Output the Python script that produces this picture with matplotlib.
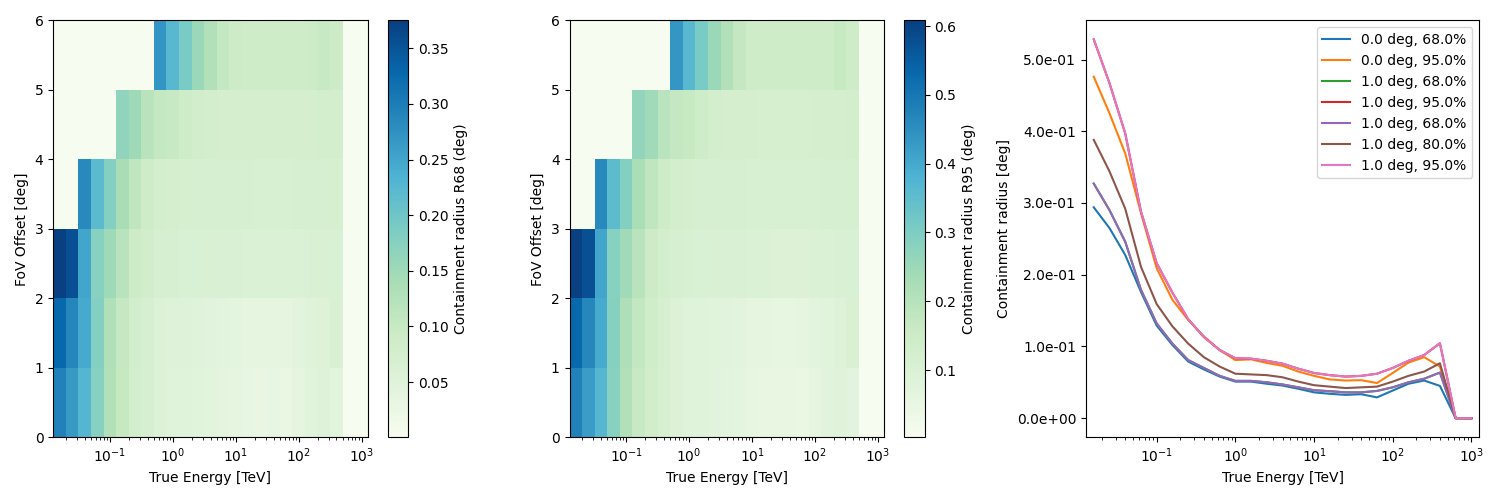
import numpy as np
import matplotlib
matplotlib.use("Agg")
import matplotlib.pyplot as plt
from matplotlib.ticker import FormatStrFormatter

# energy bin edges (log10 TeV) and FoV offset edges (deg)
log_energy_edges = [-1.9, -1.7, -1.5, -1.3, -1.1, -0.9, -0.7, -0.5, -0.3, -0.1, 0.1, 0.3, 0.5,
                    0.7, 0.9, 1.1, 1.3, 1.5, 1.7, 1.9, 2.1, 2.3, 2.5, 2.7, 2.9, 3.1]
log_energy_center = [-1.8, -1.6, -1.4, -1.2, -1.0, -0.8, -0.6, -0.4, -0.2, 0.0, 0.2, 0.4, 0.6,
                     0.8, 1.0, 1.2, 1.4, 1.6, 1.8, 2.0, 2.2, 2.4, 2.6, 2.8, 3.0]
offset_edges = [0, 1, 2, 3, 4, 5, 6]

# containment radius vs energy (deg)
r68_off0 = [0.294, 0.265, 0.2275, 0.176, 0.129, 0.102, 0.079, 0.068, 0.058, 0.051, 0.051, 0.048, 0.0455,
            0.041, 0.036, 0.034, 0.0325, 0.0334, 0.029, 0.0385, 0.048, 0.0525, 0.045, 0.0, 0.0]
r95_off0 = [0.476, 0.425, 0.369, 0.286, 0.209, 0.165, 0.137, 0.114, 0.095, 0.081, 0.082, 0.077, 0.073,
            0.065, 0.059, 0.054, 0.0525, 0.053, 0.049, 0.063, 0.0775, 0.085, 0.072, 0.0, 0.0]
r68_off1 = [0.327, 0.290, 0.246, 0.179, 0.132, 0.104, 0.081, 0.070, 0.059, 0.052, 0.052, 0.050, 0.047,
            0.043, 0.039, 0.0376, 0.036, 0.036, 0.038, 0.043, 0.050, 0.055, 0.0636, 0.0, 0.0]
r80_off1 = [0.388, 0.344, 0.292, 0.211, 0.159, 0.128, 0.104, 0.085, 0.072, 0.062, 0.061, 0.060, 0.057,
            0.051, 0.046, 0.044, 0.042, 0.043, 0.044, 0.051, 0.059, 0.065, 0.0766, 0.0, 0.0]
r95_off1 = [0.528, 0.467, 0.397, 0.288, 0.216, 0.175, 0.138, 0.113, 0.095, 0.0836, 0.083, 0.080, 0.076,
            0.069, 0.063, 0.060, 0.058, 0.059, 0.062, 0.070, 0.080, 0.088, 0.1045, 0.0, 0.0]

# higher offset rows of the maps
r68_off2 = [0.375, 0.355, 0.250, 0.175, 0.150, 0.120, 0.092, 0.080, 0.072, 0.068, 0.066, 0.065, 0.064,
            0.063, 0.062, 0.061, 0.060, 0.060, 0.060, 0.061, 0.062, 0.064, 0.066, 0.0, 0.0]
r68_off3 = [0.0, 0.0, 0.285, 0.220, 0.180, 0.140, 0.110, 0.088, 0.078, 0.075, 0.073, 0.072, 0.070,
            0.069, 0.068, 0.068, 0.067, 0.067, 0.067, 0.068, 0.069, 0.071, 0.073, 0.0, 0.0]
r68_off4 = [0.0, 0.0, 0.0, 0.0, 0.0, 0.165, 0.150, 0.120, 0.105, 0.100, 0.088, 0.080, 0.077,
            0.075, 0.075, 0.074, 0.074, 0.074, 0.074, 0.075, 0.076, 0.077, 0.078, 0.0, 0.0]
r68_off5 = [0.0, 0.0, 0.0, 0.0, 0.0, 0.0, 0.0, 0.0, 0.270, 0.225, 0.190, 0.155, 0.130,
            0.105, 0.092, 0.090, 0.089, 0.088, 0.088, 0.089, 0.092, 0.100, 0.092, 0.0, 0.0]
r95_off2 = [0.608, 0.575, 0.405, 0.285, 0.243, 0.195, 0.150, 0.130, 0.117, 0.110, 0.107, 0.105, 0.104,
            0.102, 0.100, 0.099, 0.097, 0.097, 0.097, 0.099, 0.100, 0.104, 0.107, 0.0, 0.0]
r95_off3 = [0.0, 0.0, 0.462, 0.356, 0.292, 0.227, 0.178, 0.143, 0.126, 0.122, 0.118, 0.117, 0.113,
            0.112, 0.110, 0.110, 0.109, 0.109, 0.109, 0.110, 0.112, 0.115, 0.118, 0.0, 0.0]
r95_off4 = [0.0, 0.0, 0.0, 0.0, 0.0, 0.267, 0.243, 0.194, 0.170, 0.162, 0.143, 0.130, 0.125,
            0.122, 0.122, 0.120, 0.120, 0.120, 0.120, 0.122, 0.123, 0.125, 0.126, 0.0, 0.0]
r95_off5 = [0.0, 0.0, 0.0, 0.0, 0.0, 0.0, 0.0, 0.0, 0.437, 0.365, 0.308, 0.251, 0.211,
            0.170, 0.149, 0.146, 0.144, 0.143, 0.143, 0.144, 0.149, 0.162, 0.149, 0.0, 0.0]

energy_edges = 10 ** np.array(log_energy_edges)
energy = 10 ** np.array(log_energy_center)

r68_map = np.array([r68_off0, r68_off1, r68_off2, r68_off3, r68_off4, r68_off5])
r95_map = np.array([r95_off0, r95_off1, r95_off2, r95_off3, r95_off4, r95_off5])

fig, axes = plt.subplots(1, 3, figsize=(15, 5))

maps = [(axes[0], r68_map, 0.0005, "Containment radius R68 (deg)"),
        (axes[1], r95_map, 0.0025, "Containment radius R95 (deg)")]
for ax, data, vmin, label in maps:
    mesh = ax.pcolormesh(energy_edges, offset_edges, data, cmap="GnBu",
                         vmin=vmin, vmax=data.max())
    ax.set_xscale("log")
    ax.set_xlabel("True Energy [TeV]")
    ax.set_ylabel("FoV Offset [deg]")
    fig.colorbar(mesh, ax=ax, label=label)

ax = axes[2]
curves = [(r68_off0, "0.0 deg, 68.0%"), (r95_off0, "0.0 deg, 95.0%"),
          (r68_off1, "1.0 deg, 68.0%"), (r95_off1, "1.0 deg, 95.0%"),
          (r68_off1, "1.0 deg, 68.0%"), (r80_off1, "1.0 deg, 80.0%"),
          (r95_off1, "1.0 deg, 95.0%")]
for values, label in curves:
    ax.plot(energy, values, label=label)
ax.set_xscale("log")
ax.set_xlim(energy_edges[0], energy_edges[-1])
ax.yaxis.set_major_formatter(FormatStrFormatter("%.1e"))
ax.set_xlabel("True Energy [TeV]")
ax.set_ylabel("Containment radius [deg]")
ax.legend()

plt.tight_layout()
plt.savefig("out.png", dpi=100)
